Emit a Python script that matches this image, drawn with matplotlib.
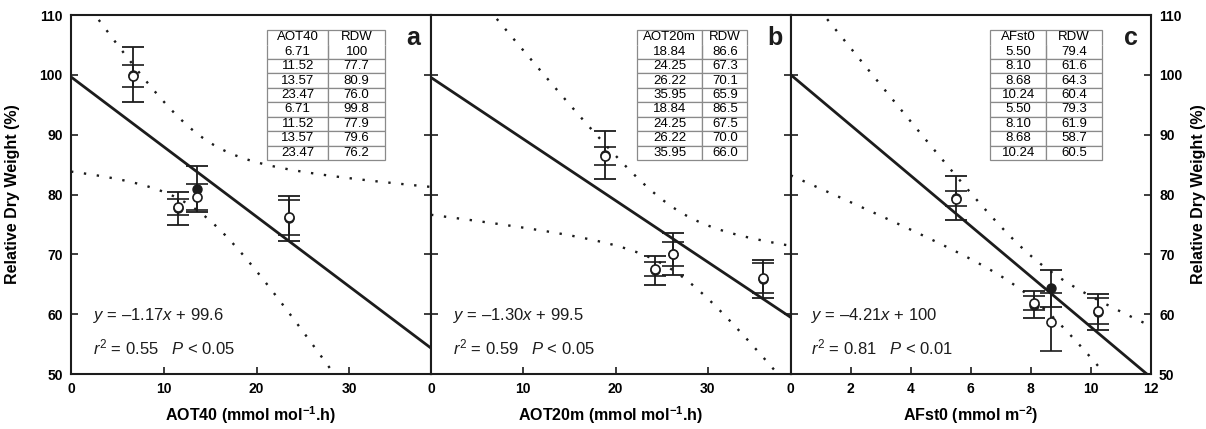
import numpy as np
import matplotlib
matplotlib.use("Agg")
import matplotlib.pyplot as plt

plt.rcParams['font.family'] = ['Liberation Sans', 'DejaVu Sans']
plt.rcParams['mathtext.fontset'] = 'custom'
plt.rcParams['mathtext.rm'] = 'Liberation Sans'
plt.rcParams['mathtext.it'] = 'Liberation Sans:italic'
plt.rcParams['mathtext.bf'] = 'Liberation Sans:bold'

# ozone dose vs relative dry weight, two seasons per index
aot40 = [6.71, 11.52, 13.57, 23.47]
aot40_rdw_filled = [100, 77.7, 80.9, 76.0]
aot40_rdw_open = [99.8, 77.9, 79.6, 76.2]
aot40_err_filled = [4.6, 2.8, 3.9, 3.8]
aot40_err_open = [1.8, 1.3, 2.2, 2.9]

aot20m = [18.84, 24.25, 26.22, 35.95]
aot20m_rdw_filled = [86.6, 67.3, 70.1, 65.9]
aot20m_rdw_open = [86.5, 67.5, 70.0, 66.0]
aot20m_err_filled = [4.0, 2.5, 3.5, 3.2]
aot20m_err_open = [1.5, 1.2, 2.0, 2.5]

afst0 = [5.50, 8.10, 8.68, 10.24]
afst0_rdw_filled = [79.4, 61.6, 64.3, 60.4]
afst0_rdw_open = [79.3, 61.9, 58.7, 60.5]
afst0_err_filled = [3.7, 2.3, 3.1, 3.0]
afst0_err_open = [1.3, 1.2, 4.9, 2.2]

rdw_ticks = [50, 60, 70, 80, 90, 100, 110]

panels = [
    dict(x=aot40, yf=aot40_rdw_filled, yo=aot40_rdw_open, ef=aot40_err_filled, eo=aot40_err_open,
         xlim=38.8, xticks=[0, 10, 20, 30], name="AOT40", letter="a",
         xlabel=r"AOT40 (mmol mol$^{\mathbf{-1}}$.h)",
         eq=r"$y$ = –1.17$x$ + 99.6", stat=r"$r^2$ = 0.55   $P$ < 0.05",
         tbl=(0.545, 0.327, 0.52), txt=(0.061, 0.95)),
    dict(x=aot20m, yf=aot20m_rdw_filled, yo=aot20m_rdw_open, ef=aot20m_err_filled, eo=aot20m_err_open,
         xlim=39.0, xticks=[0, 10, 20, 30], name="AOT20m", letter="b",
         xlabel=r"AOT20m (mmol mol$^{\mathbf{-1}}$.h)",
         eq=r"$y$ = –1.30$x$ + 99.5", stat=r"$r^2$ = 0.59   $P$ < 0.05",
         tbl=(0.573, 0.306, 0.59), txt=(0.061, 0.956)),
    dict(x=afst0, yf=afst0_rdw_filled, yo=afst0_rdw_open, ef=afst0_err_filled, eo=afst0_err_open,
         xlim=12.0, xticks=[0, 2, 4, 6, 8, 10, 12], name="AFst0", letter="c",
         xlabel=r"AFst0 (mmol m$^{\mathbf{-2}}$)",
         eq=r"$y$ = –4.21$x$ + 100", stat=r"$r^2$ = 0.81   $P$ < 0.01",
         tbl=(0.554, 0.311, 0.50), txt=(0.056, 0.945)),
]

T_95 = 2.4469  # t(0.975, df=6)
ink = "#1c1c1c"

fig = plt.figure(figsize=(12.06, 4.29), dpi=100)
W, H = 1206, 429
lefts = [71, 431, 790.7]
for i, p in enumerate(panels):
    ax = fig.add_axes([lefts[i] / W, 1 - 374 / H, 360 / W, 359 / H])

    # least-squares line and 95% confidence band of the mean
    xs = np.array(p["x"] * 2, dtype=float)
    ys = np.array(p["yf"] + p["yo"], dtype=float)
    slope, icpt = np.polyfit(xs, ys, 1)
    n = len(xs)
    resid = ys - (slope * xs + icpt)
    s = np.sqrt(np.sum(resid ** 2) / (n - 2))
    sxx = np.sum((xs - xs.mean()) ** 2)

    xg = np.linspace(0, p["xlim"], 200)
    fit = slope * xg + icpt
    half = T_95 * s * np.sqrt(1 / n + (xg - xs.mean()) ** 2 / sxx)

    ax.plot(xg, fit, color=ink, lw=2.0, zorder=2)
    for band in (fit + half, fit - half):
        ax.plot(xg, band, color=ink, lw=1.7, linestyle=(0, (1, 4.5)), zorder=2)

    ax.errorbar(p["x"], p["yf"], yerr=p["ef"], fmt="o", ms=6.5, mfc=ink, mec=ink,
                ecolor=ink, elinewidth=1.3, capsize=8, capthick=1.3, zorder=3)
    ax.errorbar(p["x"], p["yo"], yerr=p["eo"], fmt="o", ms=6.5, mfc="white", mec=ink, mew=1.2,
                ecolor=ink, elinewidth=1.3, capsize=8, capthick=1.3, zorder=4)

    ax.set_xlim(0, p["xlim"])
    ax.set_ylim(50, 110)
    ax.tick_params(direction="in", length=5, width=1.2, color=ink, top=False,
                   left=True, right=True, labelsize=10, pad=6)
    if i == 2:
        ax.tick_params(labelleft=False, labelright=True)
    elif i == 1:
        ax.tick_params(labelleft=False)
    ax.set_xticks(p["xticks"], labels=[str(t) for t in p["xticks"]], fontweight="bold")
    ax.set_yticks(rdw_ticks, labels=[str(t) for t in rdw_ticks], fontweight="bold")
    for sp in ax.spines.values():
        sp.set_linewidth(1.5)
        sp.set_color(ink)

    if i == 0:
        ax.set_ylabel("Relative Dry Weight (%)", fontsize=11.5, fontweight="bold")
        ax.yaxis.set_label_coords(-0.142, 0.5)
    elif i == 2:
        ax.yaxis.set_label_position("right")
        ax.set_ylabel("Relative Dry Weight (%)", fontsize=11.5, fontweight="bold", rotation=90)
        ax.yaxis.set_label_coords(1.113, 0.5)

    ax.set_xlabel(p["xlabel"], fontsize=11.5, fontweight="bold")
    ax.xaxis.set_label_coords(0.5, -0.085)

    ax.text(p["txt"][1], 0.936, p["letter"], transform=ax.transAxes, fontsize=18,
            fontweight="bold", ha="center", va="center", color=ink)
    ax.text(p["txt"][0], 0.162, p["eq"], transform=ax.transAxes, fontsize=12,
            va="center", ha="left", color=ink)
    ax.text(p["txt"][0], 0.075, p["stat"], transform=ax.transAxes, fontsize=12,
            va="center", ha="left", color=ink)

    # data table in the upper right corner
    x0, tw, cfrac = p["tbl"]
    xv = p["x"] * 2
    yv = p["yf"] + p["yo"]
    cells = [[f"{a:.2f}", (f"{b:g}" if b == 100 else f"{b:.1f}")] for a, b in zip(xv, yv)]
    tb = ax.table(cellText=[[p["name"], "RDW"]] + cells, cellLoc="center",
                  colWidths=[cfrac, 1 - cfrac], bbox=[x0, 0.596, tw, 0.362])
    tb.auto_set_font_size(False)
    tb.set_fontsize(9.5)
    for (r, c), cell in tb.get_celld().items():
        cell.set_edgecolor("#8a8a8a")
        cell.set_linewidth(0.9)
        cell.set_facecolor("white")
        cell.PAD = 0.02
        if r == 0:
            cell.visible_edges = "LTR"
        elif r == 1:
            cell.visible_edges = "LRB"
    tb.set_zorder(5)

fig.savefig("out.png", dpi=100)
